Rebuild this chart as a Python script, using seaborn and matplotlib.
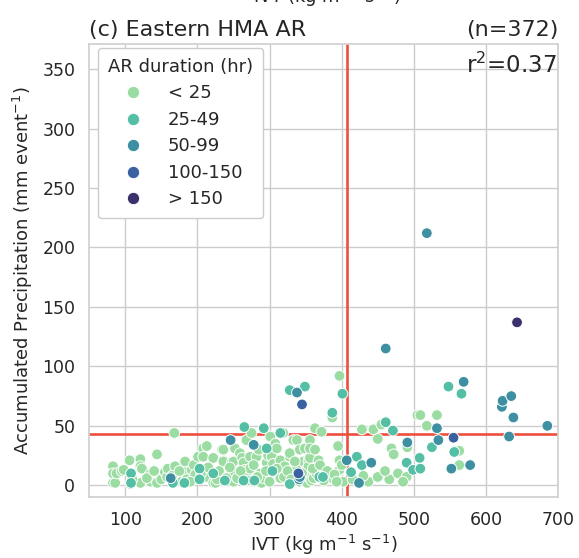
import numpy as np
import pandas as pd
import matplotlib
matplotlib.use("Agg")
import matplotlib.pyplot as plt
import seaborn as sns

# ---- data ----
categories = ["< 25", "25-49", "50-99", "100-150", "> 150"]

ivt_lt25 = [83, 83, 83, 86, 88, 95, 98, 106, 107, 121, 121, 121, 123, 134, 135, 144, 144, 150, 155, 158,
            159, 168, 169, 178, 183, 182, 185, 192, 195, 197, 201, 208, 208, 213, 213, 222, 222, 225, 227, 234,
            236, 236, 236, 248, 250, 250, 250, 252, 259, 262, 264, 266, 268, 268, 273, 273, 275, 282, 285, 287,
            289, 292, 296, 298, 301, 303, 305, 308, 310, 315, 315, 315, 319, 321, 328, 328, 333, 338, 338, 342,
            342, 347, 349, 349, 351, 352, 354, 354, 356, 356, 356, 356, 358, 361, 363, 363, 365, 368, 372, 386,
            387, 395, 397, 397, 397, 402, 428, 437, 444, 450, 450, 455, 466, 469, 472, 478, 490, 491, 505, 509,
            518, 532, 563, 563,
            110, 130, 140, 165, 175, 190, 205, 215, 230, 240, 245, 255, 260, 270, 278, 283, 295, 300, 310, 320,
            325, 330, 335, 345, 360, 370, 375, 380, 390, 393, 400, 415, 430, 460, 485]
pr_lt25 = [2, 16, 10, 2, 10, 12, 13, 21, 1, 22, 16, 2, 14, 9, 3, 2, 26, 5, 11, 7,
           14, 44, 16, 3, 20, 11, 5, 13, 17, 9, 24, 31, 24, 33, 7, 23, 2, 2, 5, 30,
           21, 20, 30, 20, 11, 20, 3, 31, 27, 23, 19, 13, 38, 10, 14, 24, 44, 24, 30, 10,
           2, 6, 19, 25, 41, 24, 18, 35, 31, 10, 21, 6, 44, 16, 24, 27, 38, 38, 14, 30,
           3, 20, 31, 3, 13, 2, 21, 16, 23, 38, 6, 31, 4, 6, 48, 30, 10, 21, 45, 6,
           57, 33, 92, 21, 13, 3, 47, 3, 47, 39, 7, 51, 5, 31, 26, 10, 7, 32, 59, 59,
           50, 59, 29, 17,
           5, 6, 12, 8, 12, 3, 10, 15, 12, 6, 15, 6, 12, 4, 17, 7, 12, 3, 14, 7,
           12, 5, 20, 10, 14, 17, 4, 12, 9, 3, 17, 5, 8, 12, 3]

ivt_25_49 = [108, 108, 166, 182, 203, 203, 222, 238, 264, 265, 279, 292, 296, 304, 315, 328, 328, 349,
             369, 374, 387, 401, 413, 421, 428, 461, 471, 490, 499, 508, 509, 525, 548, 556, 566]
pr_25_49 = [10, 2, 2, 2, 14, 5, 10, 4, 4, 49, 4, 48, 31, 12, 44, 1, 80, 83,
            7, 7, 61, 77, 11, 24, 17, 53, 46, 19, 13, 23, 14, 32, 83, 28, 77]

ivt_50_99 = [163, 246, 278, 341, 338, 342, 407, 424, 441, 461, 491, 518, 532, 534, 552, 569, 578,
             622, 623, 635, 638, 632, 685]
pr_50_99 = [6, 38, 34, 5, 78, 7, 21, 2, 19, 115, 36, 212, 48, 38, 14, 87, 17,
            66, 71, 75, 57, 41, 50]

ivt_100_150 = [340, 345, 555]
pr_100_150 = [10, 68, 40]

ivt_gt150 = [643]
pr_gt150 = [137]

ivt_mean = 407
pr_mean = 43
n_events = 372
r2_text = "r$^2$=0.37"

df = pd.concat([
    pd.DataFrame({"IVT": ivt_lt25, "PR": pr_lt25, "dur": categories[0]}),
    pd.DataFrame({"IVT": ivt_25_49, "PR": pr_25_49, "dur": categories[1]}),
    pd.DataFrame({"IVT": ivt_50_99, "PR": pr_50_99, "dur": categories[2]}),
    pd.DataFrame({"IVT": ivt_100_150, "PR": pr_100_150, "dur": categories[3]}),
    pd.DataFrame({"IVT": ivt_gt150, "PR": pr_gt150, "dur": categories[4]}),
], ignore_index=True)

palette = ["#9bdca2", "#55bfa6", "#3d8fa1", "#3a62a0", "#3b2f6c"]

# ---- plot ----
sns.set_theme(style="whitegrid")
plt.rcParams["font.family"] = ["DejaVu Sans"]

fig = plt.figure(figsize=(5.79, 5.58), dpi=100)
ax = fig.add_axes([0.154, 0.109, 0.810, 0.812])

ax.axvline(ivt_mean, color="#ec4f3e", lw=1.9, zorder=1.5)
ax.axhline(pr_mean, color="#ec4f3e", lw=1.9, zorder=1.5)

sns.scatterplot(data=df, x="IVT", y="PR", hue="dur", hue_order=categories,
                palette=palette, s=60, edgecolor="white", linewidth=0.7,
                ax=ax, zorder=3)

ax.set_xlim(50, 700)
ax.set_ylim(-10, 371)
ax.set_xticks([100, 200, 300, 400, 500, 600, 700])
ax.set_yticks(np.arange(0, 351, 50))
ax.tick_params(labelsize=12.5, pad=4)
for s in ax.spines.values():
    s.set_color("#d0d0d0")

ax.set_xlabel(r"IVT (kg m$^{-1}$ s$^{-1}$)", fontsize=13, labelpad=3)
ax.set_ylabel(r"Accumulated Precipitation (mm event$^{-1}$)", fontsize=13, labelpad=5)

ax.set_title("(c) Eastern HMA AR", loc="left", fontsize=16, pad=6)
ax.set_title(f"(n={n_events})", loc="right", fontsize=16, pad=6)

ax.text(0.997, 0.981, r2_text, transform=ax.transAxes, ha="right", va="top", fontsize=16.5)

leg = ax.legend(title="AR duration (hr)", loc="upper left",
                bbox_to_anchor=(9 / 469, 1 - 4 / 453), borderaxespad=0,
                fontsize=13, title_fontsize=13, alignment="left",
                markerscale=1.15, handlelength=2.75, handletextpad=0.55,
                borderpad=0.55, labelspacing=0.47,
                frameon=True, fancybox=True)
leg.get_frame().set_edgecolor("#cccccc")
leg.get_frame().set_alpha(1.0)

# clipped label of the panel above
fig.text(0.564, 1 - 3.0 / 558, r"IVT (kg m$^{-1}$ s$^{-1}$)", ha="center", va="baseline", fontsize=13)

fig.savefig("out.png", dpi=100)
